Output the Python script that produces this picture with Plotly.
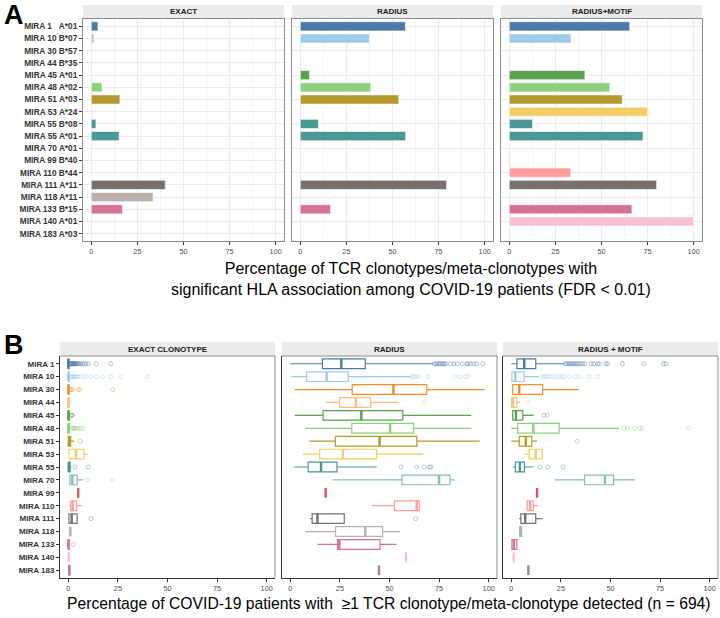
import plotly.graph_objects as go

FONT = "Liberation Sans"

# ---------------- Panel A data ----------------
A_LABELS = ["MIRA 1\u00a0\u00a0\u00a0A*01", "MIRA 10 B*07", "MIRA 30 B*57", "MIRA 44 B*35", "MIRA 45 A*01",
            "MIRA 48 A*02", "MIRA 51 A*03", "MIRA 53 A*24", "MIRA 55 B*08", "MIRA 55 A*01",
            "MIRA 70 A*01", "MIRA 99 B*40", "MIRA 110 B*44", "MIRA 111 A*11", "MIRA 118 A*11",
            "MIRA 133 B*15", "MIRA 140 A*01", "MIRA 183 A*03"]
A_COLORS = ["#4E79A7", "#A0CBE8", "#F28E2B", "#FFBE7D", "#59A14F", "#8CD17D", "#B6992D", "#F1CE63",
            "#499894", "#499894", "#86BCB6", "#E15759", "#FF9D9A", "#79706E", "#BAB0AC", "#D37295",
            "#FABFD2", "#B07AA1"]
A_EXACT = [3.6, 1.4, None, None, None, 5.8, 15.5, None, 2.5, 15.1, None, None, None, 40.1, 33.5, 16.9, None, None]
A_RADIUS = [57.0, 37.5, None, None, 5.0, 38.2, 53.4, None, 9.8, 57.1, None, None, None, 79.3, None, 16.4, None, None]
A_RM = [65.3, 33.5, None, None, 41.0, 54.5, 61.3, 75.0, 12.6, 72.5, None, None, 33.3, 79.9, None, 66.5, 100.0, None]
A_FACETS = ["EXACT", "RADIUS", "RADIUS+MOTIF"]

# ---------------- Panel B data ----------------
B_LABELS = ["MIRA 1", "MIRA 10", "MIRA 30", "MIRA 44", "MIRA 45", "MIRA 48", "MIRA 51", "MIRA 53",
            "MIRA 55", "MIRA 70", "MIRA 99", "MIRA 110", "MIRA 111", "MIRA 118", "MIRA 133",
            "MIRA 140", "MIRA 183"]
B_COLORS = ["#4E79A7", "#A0CBE8", "#F28E2B", "#FFBE7D", "#59A14F", "#8CD17D", "#B6992D", "#F1CE63",
            "#499894", "#86BCB6", "#E15759", "#FF9D9A", "#79706E", "#BAB0AC", "#D37295", "#FABFD2",
            "#B07AA1"]
B_FACETS = ["EXACT CLONOTYPE", "RADIUS", "RADIUS + MOTIF"]

EX_LO = [0, 0, 0, 0, 0, 0, 0, 0.3, 0, 0.8, 5.0, 0.5, 0, 1.0, 0, 0.2, 0.3]
EX_Q1 = [0, 0, 0, 0, 0, 0, 0, 0.3, 0, 0.8, 5.0, 1.2, 0.3, 1.0, 0, 0.2, 0.3]
EX_MED = [0, 0, 0, 0, 0, 0, 0.4, 3.9, 0.3, 2.0, 5.0, 2.2, 1.7, 1.0, 0, 0.2, 0.5]
EX_Q3 = [0.3, 0.4, 0.3, 0.4, 0.4, 0.5, 1.2, 7.9, 0.9, 4.5, 5.0, 4.2, 4.4, 1.0, 0.4, 0.2, 0.7]
EX_HI = [0.6, 1.0, 0.6, 0.7, 0.8, 1.0, 2.9, 9.7, 1.5, 7.6, 5.0, 6.7, 4.4, 1.0, 0.5, 0.2, 0.7]
EX_OUT = [
    [0.8, 1.0, 1.2, 1.4, 1.6, 1.8, 2.0, 2.3, 2.5, 2.8, 3.0, 3.3, 3.5, 4.0, 4.5, 5.0, 5.5, 6.2, 7.0,
     8.0, 9.0, 10.2, 14.0, 21.3],
    [1.3, 1.7, 2.2, 2.8, 3.4, 3.9, 4.6, 5.9, 7.5, 8.9, 11.3, 14.3, 17.3, 21.3, 26.6, 39.8],
    [1.0, 1.3, 2.2, 5.0, 5.9, 22.4],
    [],
    [1.3, 1.7, 2.2],
    [1.7, 2.4, 2.9, 3.4, 3.9, 5.0, 6.4, 7.6],
    [6.0],
    [],
    [3.4, 10.0],
    [10.0, 22.2],
    [], [], [11.4], [], [2.5], [], [],
]

RA_LO = [0, 0.5, 2.2, 17.8, 2.2, 7.8, 9.7, 6.3, 1.8, 21.3, 17.8, 41.3, 10.0, 7.8, 13.7, 58.3, 44.7]
RA_Q1 = [16.2, 8.2, 31.2, 24.8, 16.5, 31.0, 22.7, 14.8, 9.0, 56.3, 17.8, 52.5, 11.0, 22.8, 23.8, 58.3, 44.7]
RA_MED = [25.7, 18.3, 52.0, 33.0, 35.8, 50.3, 45.0, 26.5, 15.5, 75.0, 17.8, 63.7, 13.7, 37.8, 24.7, 58.3, 44.7]
RA_Q3 = [37.8, 29.2, 68.8, 40.5, 56.7, 62.2, 63.8, 43.5, 23.5, 80.5, 17.8, 65.0, 27.2, 46.5, 45.2, 58.3, 44.7]
RA_HI = [72.0, 60.8, 98.0, 54.5, 91.3, 91.3, 95.5, 67.0, 43.5, 83.0, 17.8, 65.5, 27.2, 55.2, 53.5, 58.3, 44.7]
RA_OUT = [
    [72.5, 73.3, 74.0, 74.8, 75.5, 76.3, 77.0, 77.8, 78.5, 80.8, 82.5, 84.0, 86.7, 89.0, 89.6, 90.8, 92.5, 94.0, 97.0],
    [61.5, 62.3, 63.0, 64.5, 69.2, 83.3, 85.5, 88.3, 89.5],
    [], [67.7], [], [], [], [],
    [55.8, 63.8, 67.5, 70.2, 70.8],
    [], [], [], [63.2], [], [], [], [],
]

RM_LO = [0, 0, 0.3, 0, 0.3, 0, 0, 6.6, 0.8, 21.9, 13.0, 7.8, 4.0, 4.0, 0, 1.2, 8.6]
RM_Q1 = [2.8, 0.3, 0.7, 0.2, 0.7, 3.2, 4.0, 9.0, 2.0, 36.9, 13.0, 8.0, 4.8, 4.2, 0.3, 1.2, 8.6]
RM_MED = [6.5, 2.0, 4.0, 0.8, 2.3, 11.1, 7.3, 12.3, 4.3, 47.2, 13.0, 9.5, 7.0, 4.6, 1.3, 1.2, 8.6]
RM_Q3 = [12.3, 6.5, 15.8, 2.8, 5.8, 24.1, 10.3, 15.6, 6.6, 51.5, 13.0, 11.1, 12.3, 5.2, 2.8, 1.2, 8.6]
RM_HI = [26.8, 14.0, 34.0, 4.5, 11.3, 54.3, 13.0, 15.6, 11.1, 62.3, 13.0, 13.3, 15.8, 5.3, 2.8, 1.2, 8.6]
RM_OUT = [
    [27.3, 28.0, 28.8, 29.5, 30.2, 31.0, 31.7, 32.5, 33.3, 34.0, 35.0, 36.0, 37.0, 40.2, 41.5, 43.5, 44.4,
     47.7, 48.5, 56.0, 66.8, 76.7, 77.9],
    [14.8, 16.0, 17.0, 18.0, 19.5, 21.0, 22.5, 24.0, 25.5, 26.8, 29.3, 32.3, 34.3, 39.3, 43.5],
    [], [8.3], [16.4, 18.1],
    [56.8, 58.5, 62.1, 64.8, 66.0, 89.2],
    [33.2], [],
    [14.5, 18.3, 26.1],
    [], [], [], [], [], [], [], [],
]

A_TITLE = "Percentage of TCR clonotypes/meta-clonotypes with<br>significant HLA association among COVID-19 patients (FDR < 0.01)"
B_TITLE = "Percentage of COVID-19 patients with \u00a0\u22651 TCR clonotype/meta-clonotype detected (n = 694)"
XTICKS = [0, 25, 50, 75, 100]

# ---------------- layout constants (pixels) ----------------
W, H = 720, 618
A_X = [(83, 284), (292, 493), (501, 702)]
A_Y = (19, 241)
A_STRIP = (5, 19)
B_X = [(60, 275), (282, 497), (503, 718)]
B_Y = (356, 578)
B_STRIP = (342, 356)
BOX_W = 0.75

def px_x(a, b):
    return [a / W, b / W]

def px_y(a, b):
    return [1 - b / H, 1 - a / H]

fig = go.Figure()
layout = dict(width=W, height=H, margin=dict(l=0, r=0, t=0, b=0),
              paper_bgcolor="white", plot_bgcolor="white", showlegend=False,
              boxmode="overlay", font=dict(family=FONT, color="#333333"))
shapes, annotations = [], []

TICKFONT_X = dict(family=FONT, size=7.3, color="#4D4D4D")
TICKFONT_Y = dict(family=FONT, size=8.3, color="#333333", weight="bold")

# ---------------- Panel A ----------------
a_vals = [A_EXACT, A_RADIUS, A_RM]
for i in range(3):
    n = i + 1
    xs = "" if n == 1 else str(n)
    fig.add_trace(go.Bar(
        x=a_vals[i], y=A_LABELS, orientation="h", width=0.75,
        marker=dict(color=A_COLORS, line=dict(color="rgba(255,255,255,0.7)", width=0.8)),
        xaxis="x" + xs, yaxis="y" + xs, hoverinfo="x+y"))
    layout["xaxis" + xs] = dict(
        domain=px_x(*A_X[i]), anchor="y" + xs, range=[-4.5, 104.5], tickvals=XTICKS,
        ticks="outside", ticklen=3, tickcolor="#333333", tickwidth=0.8, tickfont=TICKFONT_X,
        showgrid=True, gridcolor="#EBEBEB", gridwidth=1, zeroline=False,
        minor=dict(tickvals=[12.5, 37.5, 62.5, 87.5], showgrid=True, gridcolor="#F3F3F3", gridwidth=0.6),
        showline=True, mirror=True, linecolor="#8C8C8C", linewidth=1)
    layout["yaxis" + xs] = dict(
        domain=px_y(*A_Y), anchor="x" + xs, type="category", categoryorder="array",
        categoryarray=A_LABELS, range=[len(A_LABELS) - 0.4, -0.6],
        showgrid=True, gridcolor="#EBEBEB", gridwidth=1, zeroline=False,
        ticks="outside" if n == 1 else "", ticklen=3, tickcolor="#333333", tickwidth=0.8,
        showticklabels=(n == 1), tickfont=TICKFONT_Y,
        showline=True, mirror=True, linecolor="#8C8C8C", linewidth=1)
    shapes.append(dict(type="rect", xref="x" + xs + " domain", yref="paper", x0=0, x1=1,
                       y0=px_y(*A_STRIP)[0], y1=px_y(*A_STRIP)[1],
                       fillcolor="#EBEBEB", line=dict(width=0), layer="below"))
    annotations.append(dict(text=A_FACETS[i], xref="x" + xs + " domain", yref="paper", x=0.5,
                            y=sum(px_y(*A_STRIP)) / 2, showarrow=False, xanchor="center", yanchor="middle",
                            font=dict(family=FONT, size=8, color="#1A1A1A", weight="bold")))

# ---------------- Panel B ----------------
b_stats = [(EX_LO, EX_Q1, EX_MED, EX_Q3, EX_HI, EX_OUT),
           (RA_LO, RA_Q1, RA_MED, RA_Q3, RA_HI, RA_OUT),
           (RM_LO, RM_Q1, RM_MED, RM_Q3, RM_HI, RM_OUT)]
B_POS = list(range(len(B_LABELS)))
for i in range(3):
    n = i + 4
    xs = str(n)
    lo, q1, med, q3, hi, out = b_stats[i]
    for k, pos in enumerate(B_POS):
        c = B_COLORS[k]
        fig.add_trace(go.Box(
            y=[pos], lowerfence=[lo[k]], q1=[q1[k]], median=[med[k]], q3=[q3[k]], upperfence=[hi[k]],
            orientation="h", width=BOX_W, whiskerwidth=0, boxpoints=False,
            line=dict(color=c, width=1.2), fillcolor="rgba(255,255,255,0)",
            xaxis="x" + xs, yaxis="y" + xs, name=B_LABELS[k]))
        # thicker median line (ggplot style)
        fig.add_trace(go.Scatter(
            x=[med[k], med[k]], y=[pos - BOX_W / 2, pos + BOX_W / 2], mode="lines",
            line=dict(color=c, width=2.4), xaxis="x" + xs, yaxis="y" + xs, hoverinfo="skip"))
        if out[k]:
            fig.add_trace(go.Scatter(
                x=out[k], y=[pos] * len(out[k]), mode="markers",
                marker=dict(symbol="circle-open", size=4, color=c, opacity=0.55, line=dict(width=0.8)),
                xaxis="x" + xs, yaxis="y" + xs, name=B_LABELS[k]))
    layout["xaxis" + xs] = dict(
        domain=px_x(*B_X[i]), anchor="y" + xs, range=[-4.2, 104.2], tickvals=XTICKS,
        ticks="outside", ticklen=3, tickcolor="#333333", tickwidth=0.8, tickfont=TICKFONT_X,
        showgrid=False, zeroline=False, showline=True, linecolor="#333333", linewidth=1)
    layout["yaxis" + xs] = dict(
        domain=px_y(*B_Y), anchor="x" + xs, tickmode="array", tickvals=B_POS, ticktext=B_LABELS,
        range=[len(B_LABELS) - 0.4, -0.6],
        showgrid=False, zeroline=False,
        ticks="outside" if n == 4 else "", ticklen=3, tickcolor="#333333", tickwidth=0.8,
        showticklabels=(n == 4), tickfont=dict(family=FONT, size=8, color="#333333", weight="bold"),
        showline=True, linecolor="#333333", linewidth=1)
    shapes.append(dict(type="line", xref="x" + xs + " domain", yref="y" + xs + " domain",
                       x0=0, x1=1, y0=1, y1=1, line=dict(color="#8C8C8C", width=1)))
    shapes.append(dict(type="line", xref="x" + xs + " domain", yref="y" + xs + " domain",
                       x0=1, x1=1, y0=0, y1=1, line=dict(color="#8C8C8C", width=1)))
    shapes.append(dict(type="rect", xref="x" + xs + " domain", yref="paper", x0=0, x1=1,
                       y0=px_y(*B_STRIP)[0], y1=px_y(*B_STRIP)[1],
                       fillcolor="#EBEBEB", line=dict(width=0), layer="below"))
    annotations.append(dict(text=B_FACETS[i], xref="x" + xs + " domain", yref="paper", x=0.5,
                            y=sum(px_y(*B_STRIP)) / 2, showarrow=False, xanchor="center", yanchor="middle",
                            font=dict(family=FONT, size=8, color="#1A1A1A", weight="bold")))

# ---------------- Titles & panel letters ----------------
annotations.append(dict(text=A_TITLE, xref="paper", yref="paper", x=411 / W, y=1 - 279 / H,
                        showarrow=False, xanchor="center", yanchor="middle",
                        font=dict(family=FONT, size=16, color="#000000")))
annotations.append(dict(text=B_TITLE, xref="paper", yref="paper", x=388.5 / W, y=1 - 603 / H,
                        showarrow=False, xanchor="center", yanchor="middle",
                        font=dict(family=FONT, size=15.7, color="#000000")))
annotations.append(dict(text="A", xref="paper", yref="paper", x=2 / W, y=1 - 15 / H,
                        showarrow=False, xanchor="left", yanchor="middle",
                        font=dict(family=FONT, size=27, color="#000000", weight="bold")))
annotations.append(dict(text="B", xref="paper", yref="paper", x=2 / W, y=1 - 345 / H,
                        showarrow=False, xanchor="left", yanchor="middle",
                        font=dict(family=FONT, size=27, color="#000000", weight="bold")))

layout["shapes"] = shapes
layout["annotations"] = annotations
fig.update_layout(**layout)
fig.write_html("out.html", config={"displayModeBar": False},
               post_script="document.body.style.margin='0';document.body.style.overflow='hidden';")
